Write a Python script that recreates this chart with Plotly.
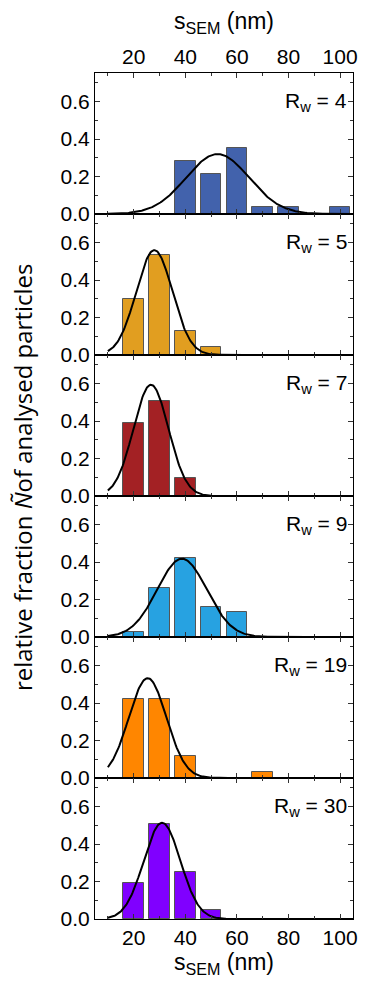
import numpy as np
import plotly.graph_objects as go
from plotly.subplots import make_subplots

# Size bins (nm) and relative fractions per sample
bin_centers = [20, 30, 40, 50, 60, 70, 80, 90, 100]
rw_labels = ["4", "5", "7", "9", "19", "30"]
frac_rw4 = [0.0, 0.0, 0.285, 0.215, 0.355, 0.035, 0.035, 0.0, 0.035]
frac_rw5 = [0.297, 0.533, 0.128, 0.041, 0.0, 0.0, 0.0, 0.0, 0.0]
frac_rw7 = [0.39, 0.51, 0.096, 0.0, 0.0, 0.0, 0.0, 0.0, 0.0]
frac_rw9 = [0.027, 0.263, 0.421, 0.158, 0.131, 0.0, 0.0, 0.0, 0.0]
frac_rw19 = [0.423, 0.423, 0.119, 0.0, 0.0, 0.03, 0.0, 0.0, 0.0]
frac_rw30 = [0.192, 0.507, 0.25, 0.048, 0.0, 0.0, 0.0, 0.0, 0.0]
fractions = [frac_rw4, frac_rw5, frac_rw7, frac_rw9, frac_rw19, frac_rw30]

# Gaussian fit parameters (amplitude, centre nm, sigma nm)
fit_amp = [0.32, 0.56, 0.594, 0.418, 0.533, 0.514]
fit_center = [52.5, 28.0, 26.7, 38.7, 25.4, 31.0]
fit_sigma = [12.2, 7.0, 6.8, 9.6, 7.3, 7.1]

bar_colors = ["#4262AC", "#E19E20", "#A32124", "#27A2E1", "#FF8600", "#8000FF"]

x_range = [5, 105]
y_range = [0, 0.753]

fig = make_subplots(rows=6, cols=1, shared_xaxes=False, vertical_spacing=0)

x_fit = np.linspace(10, 105, 300)
for i in range(6):
    row = i + 1
    fig.add_trace(go.Bar(
        x=bin_centers, y=fractions[i], width=8,
        marker=dict(color=bar_colors[i], line=dict(color="#555555", width=1)),
        showlegend=False,
    ), row=row, col=1)
    y_fit = fit_amp[i] * np.exp(-0.5 * ((x_fit - fit_center[i]) / fit_sigma[i]) ** 2)
    fig.add_trace(go.Scatter(
        x=x_fit, y=y_fit, mode="lines",
        line=dict(color="black", width=2), showlegend=False,
    ), row=row, col=1)

tick_font = dict(family="Liberation Sans, Arial, sans-serif", size=21, color="black")
for i in range(6):
    row = i + 1
    fig.update_xaxes(
        range=x_range, showline=True, linecolor="black", linewidth=1, mirror="ticks",
        ticks="inside", ticklen=5, tickwidth=1, tickcolor="#333", tick0=0, dtick=20,
        minor=dict(ticks="inside", ticklen=3, tickwidth=1, tickcolor="#333", dtick=10, tick0=0),
        showgrid=False, zeroline=False, tickfont=tick_font,
        showticklabels=(row in (1, 6)),
        side="top" if row == 1 else "bottom",
        row=row, col=1,
    )
    fig.update_yaxes(
        range=y_range, showline=True, linecolor="black", linewidth=1, mirror="ticks",
        ticks="inside", ticklen=5, tickwidth=1, tickcolor="#333", tick0=0, dtick=0.2,
        tickformat=".1f",
        minor=dict(ticks="inside", ticklen=3, tickwidth=1, tickcolor="#333", dtick=0.1, tick0=0),
        showgrid=False, zeroline=False, tickfont=tick_font,
        row=row, col=1,
    )

title_font = dict(family="Liberation Sans, Arial, sans-serif", size=23, color="black")
fig.update_xaxes(title=dict(text="s<sub>SEM</sub> (nm)", font=title_font, standoff=8), row=1, col=1)
fig.update_xaxes(title=dict(text="s<sub>SEM</sub> (nm)", font=title_font, standoff=2), row=6, col=1)

annotations = []
for i in range(6):
    yref = "y" if i == 0 else f"y{i + 1}"
    annotations.append(dict(
        x=103.5, y=0.52, xref="x" if i == 0 else f"x{i + 1}", yref=yref,
        text=f"R<sub>w</sub> = {rw_labels[i]}", showarrow=False,
        xanchor="right", yanchor="bottom",
        font=dict(family="Liberation Sans, Arial, sans-serif", size=21, color="black"),
    ))
annotations.append(dict(
    x=0, y=0.5225, xref="paper", yref="paper", xanchor="center", yanchor="middle",
    text="relative fraction <i>Ñ</i>of analysed particles", showarrow=False, textangle=-90,
    font=dict(family="Open Sans, sans-serif", size=24, color="black"),
))
fig.update_layout(annotations=annotations)

fig.update_layout(
    width=367, height=982,
    margin=dict(l=95, r=10, t=73, b=63),
    paper_bgcolor="white", plot_bgcolor="white",
    bargap=0, showlegend=False,
)
# y-title annotation centred at 22 px from the left edge
fig.layout.annotations[-1].update(x=(22 - 95) / (367 - 95 - 10))

fig.write_html("out.html")
